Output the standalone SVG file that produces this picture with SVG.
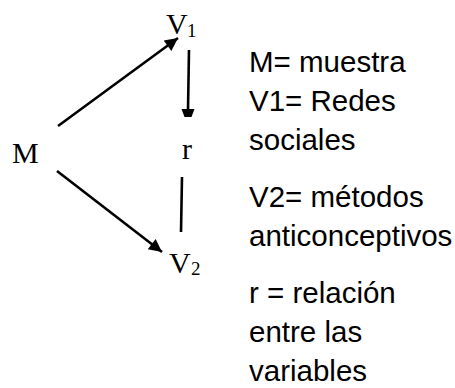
<svg xmlns="http://www.w3.org/2000/svg" width="455" height="388" viewBox="0 0 455 388">
<style>
.lbl{font-family:"Liberation Serif","Times New Roman",serif;font-size:30px;fill:#000}
.sub{font-family:"Liberation Serif","Times New Roman",serif;font-size:19px;fill:#000}
.leg{font-family:"Liberation Sans",Arial,sans-serif;font-size:29.5px;fill:#000}
.ln{stroke:#000;stroke-width:2.6;fill:none}
</style>
<defs>
<marker id="ah" viewBox="0 0 10 10" refX="10" refY="5" markerWidth="6" markerHeight="5" markerUnits="strokeWidth" orient="auto">
<path d="M0,0 L10,5 L0,10 Z" fill="#000"/>
</marker>
</defs>
<rect width="455" height="388" fill="#fff"/>
<g id="connectors">
<line class="ln" x1="58" y1="126" x2="178" y2="38" marker-end="url(#ah)"/>
<line class="ln" x1="57" y1="171" x2="162" y2="252" marker-end="url(#ah)"/>
<line class="ln" x1="189" y1="50" x2="188" y2="110"/>
<polygon points="181.5,109 194.5,109 191.5,117 184.5,117" fill="#000"/>
<line class="ln" x1="182" y1="177" x2="181" y2="232"/>
</g>
<g id="node-M"><text class="lbl" x="12" y="163">M</text></g>
<g id="node-V1"><text class="lbl" x="166" y="34">V</text><text class="sub" x="187" y="37">1</text></g>
<g id="node-r"><text class="lbl" x="182" y="159">r</text></g>
<g id="node-V2"><text class="lbl" x="169" y="273">V</text><text class="sub" x="191" y="275">2</text></g>
<g id="legend">
<text class="leg" x="249" y="72">M= muestra</text>
<text class="leg" x="249" y="111">V1= Redes</text>
<text class="leg" x="249" y="150">sociales</text>
<text class="leg" x="249" y="207">V2= métodos</text>
<text class="leg" x="249" y="246">anticonceptivos</text>
<text class="leg" x="249" y="303">r = relación</text>
<text class="leg" x="249" y="342">entre las</text>
<text class="leg" x="249" y="381">variables</text>
</g>
</svg>
